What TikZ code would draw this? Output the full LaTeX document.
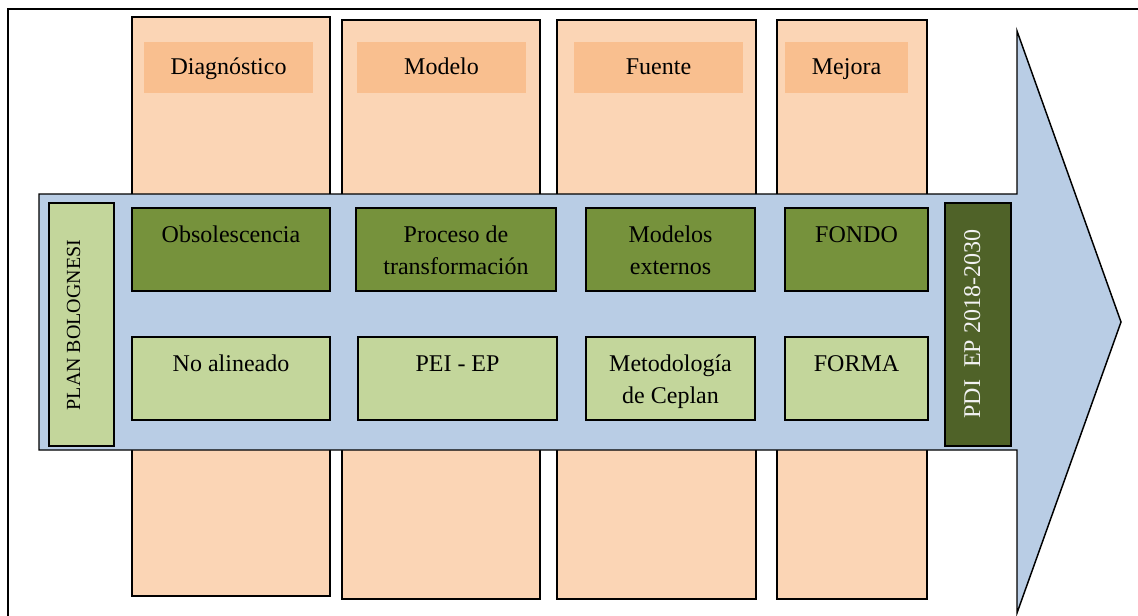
\documentclass[tikz,border=0pt]{standalone}
\usepackage{fontspec}
\setmainfont{Liberation Serif}
\usetikzlibrary{fit}
\definecolor{colfill}{HTML}{FBD5B5}
\definecolor{headfill}{HTML}{F9BF8F}
\definecolor{arrowfill}{HTML}{B9CDE5}
\definecolor{midgreen}{HTML}{76923C}
\definecolor{palegreen}{HTML}{C3D69B}
\definecolor{deepgreen}{HTML}{4F6228}
\definecolor{paletext}{HTML}{F2F2F2}
% centred lines whose baseline is that of the first line
\newcommand{\celltext}[1]{\begin{tabular}[t]{@{}c@{}}#1\end{tabular}}
\tikzset{
  column/.style={rectangle, draw=black, line width=1.5pt, fill=colfill, inner sep=0pt, outer sep=0pt},
  headbox/.style={rectangle, fill=headfill, inner sep=0pt, outer sep=0pt},
  cause/.style={rectangle, draw=black, line width=1.5pt, fill=midgreen, inner sep=0pt, outer sep=0pt},
  effect/.style={rectangle, draw=black, line width=1.5pt, fill=palegreen, inner sep=0pt, outer sep=0pt},
  endbox/.style={rectangle, draw=black, line width=1.5pt, fill=deepgreen, inner sep=0pt, outer sep=0pt},
  txt/.style={inner sep=0pt, font=\fontsize{18pt}{23.6pt}\selectfont, text=black},
  boxtxt/.style={txt, anchor=base},
  sidetxt/.style={inner sep=0pt, anchor=base, rotate=90},
}
\begin{document}
\begin{tikzpicture}[x=0.75pt, y=-0.75pt]
\useasboundingbox (0,0) rectangle (1138,615);
\clip (0,0) rectangle (1138,615);
\fill[white] (0,0) rectangle (1138,615);

% outer frame (only its top and left sides fall inside the page)
\draw[line width=2pt] (8,700) -- (8,9) -- (1200,9);

% category columns
\node[column, fit={(132,17) (330,596)}] (col1) {};
\node[column, fit={(342,20) (540,599)}] (col2) {};
\node[column, fit={(557,20) (756,599)}] (col3) {};
\node[column, fit={(777,20) (927,599)}] (col4) {};

% column headings
\node[headbox, fit={(144,42) (313,93)}] (h1) {};
\node[headbox, fit={(357,42) (526,93)}] (h2) {};
\node[headbox, fit={(574,42) (743,93)}] (h3) {};
\node[headbox, fit={(785,42) (908,93)}] (h4) {};
\node[txt, anchor=base] (h1t) at (h1.center |- 0,74) {Diagnóstico};
\node[txt, anchor=base] (h2t) at (h2.center |- 0,74) {Modelo};
\node[txt, anchor=base] (h3t) at (h3.center |- 0,74) {Fuente};
\node[txt, anchor=base] (h4t) at (h4.center |- 0,74) {Mejora};

% the big arrow
\draw[line width=1.1pt, fill=arrowfill, line join=miter]
  (39,194) -- (1017,194) -- (1017,31) -- (1121,322) -- (1017,613)
  -- (1017,450) -- (39,450) -- cycle;

% start and end of the process
\node[effect, fit={(49,203) (114,446)}] (plan) {};
\node[txt, sidetxt, font=\fontsize{15pt}{18pt}\selectfont] (plant) at (80,325) {PLAN BOLOGNESI};
\node[endbox, fit={(945,203) (1011,446)}] (pdi) {};
\node[txt, sidetxt, text=paletext] (pdit) at (980,324) {PDI\ \ EP 2018-2030};

% upper row
\node[cause, fit={(132,208) (330,291)}] (c1) {};
\node[cause, fit={(356,208) (556,291)}] (c2) {};
\node[cause, fit={(586,208) (755,291)}] (c3) {};
\node[cause, fit={(785,208) (928,291)}] (c4) {};
\node[boxtxt] (c1t) at ([yshift=-26pt]c1.north) {\celltext{Obsolescencia}};
\node[boxtxt] (c2t) at ([yshift=-26pt]c2.north) {\celltext{Proceso de\\transformación}};
\node[boxtxt] (c3t) at ([yshift=-26pt]c3.north) {\celltext{Modelos\\externos}};
\node[boxtxt] (c4t) at ([yshift=-26pt]c4.north) {\celltext{FONDO}};

% lower row
\node[effect, fit={(132,337) (330,420)}] (e1) {};
\node[effect, fit={(358,337) (557,420)}] (e2) {};
\node[effect, fit={(586,337) (755,420)}] (e3) {};
\node[effect, fit={(785,337) (928,420)}] (e4) {};
\node[boxtxt] (e1t) at ([yshift=-26pt]e1.north) {\celltext{No alineado}};
\node[boxtxt] (e2t) at ([yshift=-26pt]e2.north) {\celltext{PEI - EP}};
\node[boxtxt] (e3t) at ([yshift=-26pt]e3.north) {\celltext{Metodología\\de Ceplan}};
\node[boxtxt] (e4t) at ([yshift=-26pt]e4.north) {\celltext{FORMA}};
\end{tikzpicture}
\end{document}
